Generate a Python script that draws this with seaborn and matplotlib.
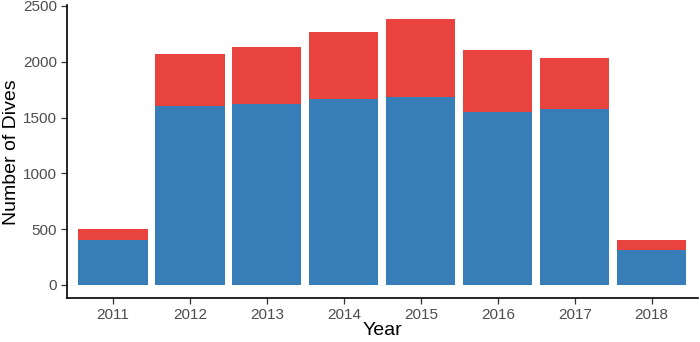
import matplotlib
matplotlib.use("Agg")
import matplotlib.pyplot as plt
import seaborn as sns
import pandas as pd

years = ["2011", "2012", "2013", "2014", "2015", "2016", "2017", "2018"]
blue_vals = [405, 1601, 1625, 1668, 1685, 1548, 1577, 309]
red_vals = [100, 466, 507, 595, 694, 560, 457, 98]
totals = [b + r for b, r in zip(blue_vals, red_vals)]

df = pd.DataFrame({"Year": years, "blue": blue_vals, "total": totals})

sns.set_theme(style="ticks")
plt.rcParams["font.family"] = ["Liberation Sans", "DejaVu Sans"]

fig = plt.figure(figsize=(7, 3.42), dpi=100)
ax = fig.add_axes([0.0953, 0.128, 0.9017, 0.856])

sns.barplot(data=df, x="Year", y="total", color="#E8433F", saturation=1,
            width=0.9, edgecolor="none", linewidth=0, ax=ax, errorbar=None)
sns.barplot(data=df, x="Year", y="blue", color="#377EB8", saturation=1,
            width=0.9, edgecolor="none", linewidth=0, ax=ax, errorbar=None)

ax.set_xlim(-0.6, 7.6)
ax.set_ylim(-119, 2504)
ax.set_yticks([0, 500, 1000, 1500, 2000, 2500])
ax.set_xlabel("Year", fontsize=14, color="black", labelpad=0)
ax.set_ylabel("Number of Dives", fontsize=14, color="black", labelpad=2)
ax.tick_params(axis="both", labelsize=11, labelcolor="#4D4D4D", color="#333333",
               length=4, width=0.9, pad=3)
for s in ["top", "right"]:
    ax.spines[s].set_visible(False)
for s in ["left", "bottom"]:
    ax.spines[s].set_color("black")
    ax.spines[s].set_linewidth(1.2)

fig.savefig("out.png", dpi=100)
